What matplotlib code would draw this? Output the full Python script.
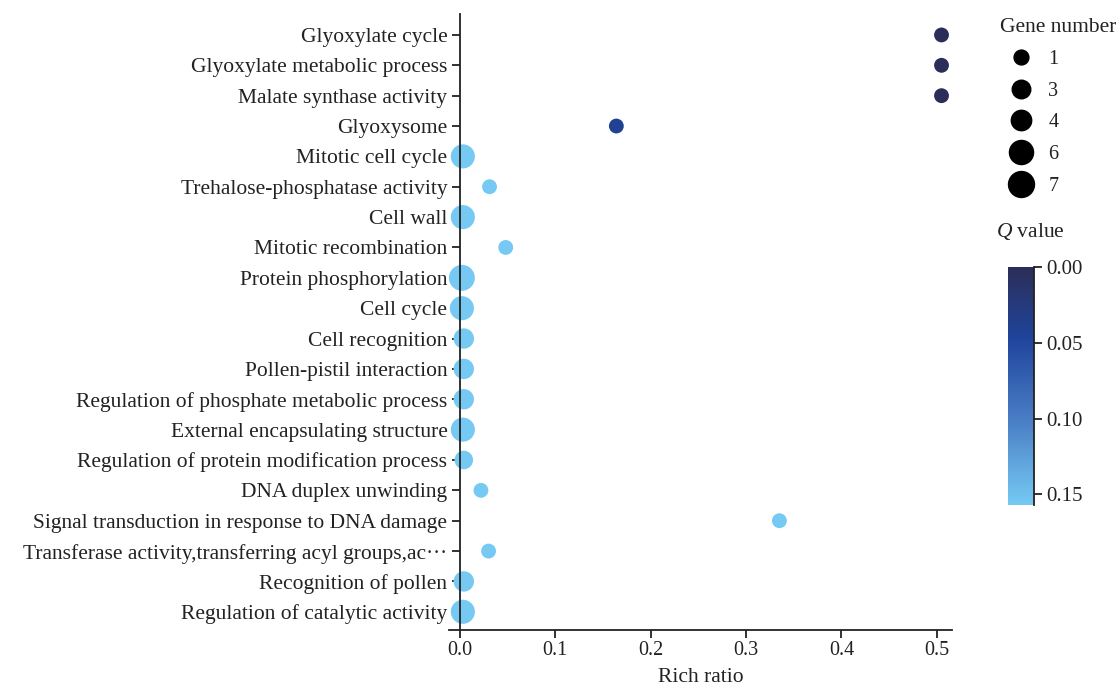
import matplotlib
matplotlib.use("Agg")
import matplotlib.pyplot as plt
import numpy as np
from matplotlib.colors import LinearSegmentedColormap, Normalize
from matplotlib.lines import Line2D

plt.rcParams['font.family'] = ['Liberation Serif', 'DejaVu Serif']
plt.rcParams['mathtext.fontset'] = 'custom'
plt.rcParams['mathtext.it'] = 'Liberation Serif:italic'
plt.rcParams['mathtext.rm'] = 'Liberation Serif'

terms = [
    "Glyoxylate cycle",
    "Glyoxylate metabolic process",
    "Malate synthase activity",
    "Glyoxysome",
    "Mitotic cell cycle",
    "Trehalose-phosphatase activity",
    "Cell wall",
    "Mitotic recombination",
    "Protein phosphorylation",
    "Cell cycle",
    "Cell recognition",
    "Pollen-pistil interaction",
    "Regulation of phosphate metabolic process",
    "External encapsulating structure",
    "Regulation of protein modification process",
    "DNA duplex unwinding",
    "Signal transduction in response to DNA damage",
    "Transferase activity,transferring acyl groups,ac\u00b7\u00b7\u00b7",
    "Recognition of pollen",
    "Regulation of catalytic activity",
]
rich_ratio = [0.505, 0.505, 0.505, 0.164, 0.003, 0.031, 0.003, 0.048, 0.002, 0.002,
              0.004, 0.004, 0.004, 0.003, 0.004, 0.022, 0.335, 0.030, 0.004, 0.003]
gene_number = [1, 1, 1, 1, 6, 1, 6, 1, 7, 6,
               4, 4, 4, 6, 3, 1, 1, 1, 4, 6]
q_value = [0.001, 0.001, 0.001, 0.04, 0.156, 0.156, 0.156, 0.156, 0.156, 0.156,
           0.156, 0.156, 0.156, 0.156, 0.156, 0.156, 0.156, 0.156, 0.156, 0.156]
legend_sizes = [1, 3, 4, 6, 7]
cbar_ticks = [0.00, 0.05, 0.10, 0.15]
x_ticks = [0.0, 0.1, 0.2, 0.3, 0.4, 0.5]

DPI = 100
FS = 14.5
TXT = '#222222'

def diam_pt(n):
    return (13 + 1.85 * n) * 72 / DPI

cmap = LinearSegmentedColormap.from_list(
    "qc", [(0.0, "#2c2e58"), (0.3, "#1f449c"), (0.65, "#4a7fc6"), (1.0, "#75caf3")])
vmax = 0.157
norm = Normalize(0, vmax)

fig = plt.figure(figsize=(11.16, 6.88), dpi=DPI)
ax = fig.add_axes([449/1116, 1-630/688, (952-449)/1116, (630-14)/688])

for s in ['top', 'right']:
    ax.spines[s].set_visible(False)
ax.spines['left'].set_position(('data', 0))
ax.spines['left'].set_zorder(4)
for s in ['left', 'bottom']:
    ax.spines[s].set_linewidth(1.3)
    ax.spines[s].set_color(TXT)

ypos = np.arange(len(terms))
sizes = [diam_pt(n)**2 for n in gene_number]
ax.scatter(rich_ratio, ypos, s=sizes, c=q_value, cmap=cmap, norm=norm,
           edgecolors='none', zorder=3, clip_on=False)

ax.set_ylim(len(terms) - 1 + 0.6, -0.69)
ax.set_xlim(-0.0115, 0.516)
ax.set_yticks(ypos)
ax.set_yticklabels(terms, fontsize=15.5, color=TXT)
ax.set_xticks(x_ticks)
ax.set_xticklabels([f"{t:.1f}" for t in x_ticks], fontsize=FS, color=TXT)
ax.set_xlabel("Rich ratio", fontsize=15.5, color=TXT, labelpad=6)
ax.tick_params(axis='both', length=6, width=1.3, color=TXT)
ax.tick_params(axis='y', pad=3)
ax.tick_params(axis='x', pad=2)

# size legend
handles = [Line2D([], [], marker='o', linestyle='none', color='black',
                  markersize=diam_pt(n)) for n in legend_sizes]
leg = ax.legend(handles, [str(n) for n in legend_sizes], title="Gene number",
                frameon=False, loc='upper left', bbox_to_anchor=(992/1116, 1-10/688),
                bbox_transform=fig.transFigure, fontsize=FS, title_fontsize=15.5,
                labelspacing=0.63, handlelength=2.1, handletextpad=0.3,
                borderaxespad=0, alignment='left')
for t in leg.get_texts():
    t.set_color(TXT)
leg.get_title().set_color(TXT)

# colorbar
cax = fig.add_axes([1008/1116, 1-505/688, 26/1116, (505-267)/688])
sm = plt.cm.ScalarMappable(norm=norm, cmap=cmap)
cb = fig.colorbar(sm, cax=cax, ticks=cbar_ticks)
cb.ax.invert_yaxis()
cb.ax.set_yticklabels([f"{t:.2f}" for t in cbar_ticks], fontsize=FS + 0.5, color=TXT)
cb.outline.set_visible(False)
cb.ax.spines['right'].set_visible(True)
cb.ax.spines['right'].set_linewidth(1.3)
cb.ax.spines['right'].set_color(TXT)
cb.ax.tick_params(length=6, width=1.3, color=TXT, pad=3)
fig.text(996/1116, 1-231/688, "$Q$ value", fontsize=15.5, color=TXT, va='center', ha='left')

fig.savefig("out.png", dpi=DPI)
